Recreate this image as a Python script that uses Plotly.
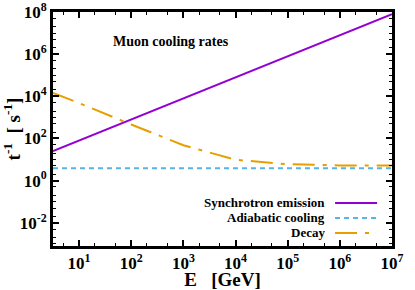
import plotly.graph_objects as go

# Data
E_sync = [3.16, 1e7]
rate_sync = [25, 7.9e7]

E_adiab = [3.16, 1e7]
rate_adiab = [3.9, 3.9]

E_decay = [3.16, 10, 100, 1e3, 1e4, 1e5, 1e6, 1e7]
rate_decay = [1.45e4, 4.8e3, 460, 48, 9.8, 6.0, 5.3, 5.2]

x_tickvals = [10, 100, 1e3, 1e4, 1e5, 1e6, 1e7]
x_ticktext = ["10<sup>1</sup>", "10<sup>2</sup>", "10<sup>3</sup>", "10<sup>4</sup>",
              "10<sup>5</sup>", "10<sup>6</sup>", "10<sup>7</sup>"]
y_tickvals = [1e-2, 1, 1e2, 1e4, 1e6, 1e8]
y_ticktext = ["10<sup>-2</sup>", "10<sup>0</sup>", "10<sup>2</sup>", "10<sup>4</sup>",
              "10<sup>6</sup>", "10<sup>8</sup>"]

series_names = ["Synchrotron emission", "Adiabatic cooling", "Decay"]
colors = ["#9400D3", "#56B4E9", "#E69F00"]
dashes = ["solid", "5px,4px", "22px,8px,4px,8px"]

FONT = "Liberation Serif"

fig = go.Figure()
for (xs, ys), name, c, d in zip([(E_sync, rate_sync), (E_adiab, rate_adiab), (E_decay, rate_decay)],
                                series_names, colors, dashes):
    fig.add_trace(go.Scatter(x=xs, y=ys, mode="lines", name=name,
                             line=dict(color=c, width=2, dash=d), showlegend=False))

# gnuplot-style legend: right-aligned text with line sample on the right
leg_y = [0.184, 0.12, 0.056]
for name, c, d, yy in zip(series_names, colors, dashes, leg_y):
    fig.add_annotation(x=0.808, y=yy, xref="paper", yref="paper", text=f"<b>{name}</b>",
                       showarrow=False, xanchor="right", yanchor="middle",
                       font=dict(family=FONT, size=13, color="black"))
    fig.add_shape(type="line", xref="paper", yref="paper", x0=0.832, x1=0.956, y0=yy, y1=yy,
                  line=dict(color=c, width=2, dash=d))

fig.add_annotation(x=0.171, y=0.873, xref="paper", yref="paper", text="<b>Muon cooling rates</b>",
                   showarrow=False, xanchor="left", yanchor="middle",
                   font=dict(family=FONT, size=14, color="black"))

axis_common = dict(showline=True, linecolor="black", linewidth=3, mirror="allticks",
                   ticks="inside", ticklen=6, tickwidth=1.5, tickcolor="black",
                   showgrid=False, zeroline=False, ticklabeloverflow="allow",
                   automargin=False,
                   tickfont=dict(family=FONT, size=17, color="black"))

fig.update_xaxes(type="log", range=[0.5, 7], tickvals=x_tickvals,
                 ticktext=[f"<b>{t}</b>" for t in x_ticktext],
                 title=dict(text="<b>E   [GeV]</b>", font=dict(family=FONT, size=19, color="black")),
                 minor=dict(ticks="inside", ticklen=3, tickcolor="black", tickwidth=1, showgrid=False),
                 **axis_common)
fig.update_yaxes(type="log", range=[-3.1, 8], tickvals=y_tickvals,
                 ticktext=[f"<b>{t}</b>" for t in y_ticktext],
                 title=dict(text="<b>t<sup>-1</sup>  [ s<sup>-1</sup>]</b>",
                            font=dict(family=FONT, size=19, color="black")),
                 minor=dict(ticks="inside", ticklen=3, tickcolor="black", tickwidth=1, showgrid=False),
                 **axis_common)

fig.update_layout(width=415, height=290, margin=dict(l=53, r=23, t=12, b=44),
                  plot_bgcolor="white", paper_bgcolor="white",
                  font=dict(family=FONT, color="black"))

fig.write_html("out.html", config={"displayModeBar": False},
               post_script="document.body.style.margin='0px';document.body.style.overflow='hidden';")
